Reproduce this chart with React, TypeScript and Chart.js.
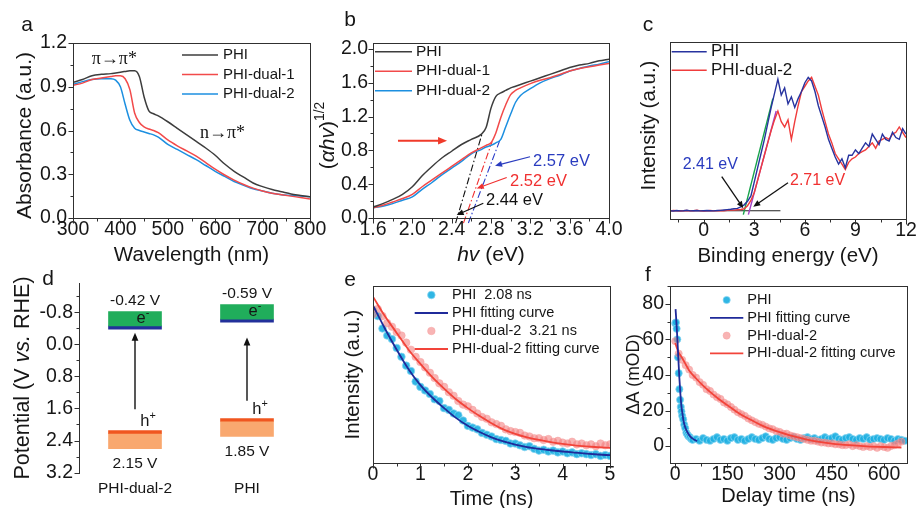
import React, { useEffect, useRef } from 'react';
import { Chart, registerables } from 'chart.js';

Chart.register(...registerables);

const SANS = '"Liberation Sans", Arial, Helvetica, sans-serif';
const SERIF = '"Liberation Serif", "DejaVu Serif", "Times New Roman", serif';
const INK = '#161616';
const AXIS = '#303030';
const TICK = 19.5;

const COL = {
  gray: '#3d3d3d',
  red: '#f24a4a',
  blue: '#1c8fe0',
  specBlue: '#27339f',
  specRed: '#f03c3c',
  cyanFill: 'rgba(30, 176, 226, 0.92)',
  cyanEdge: 'rgba(140, 214, 242, 0.9)',
  pinkFill: 'rgba(242, 118, 118, 0.55)',
  pinkEdge: 'rgba(246, 160, 160, 0.6)',
  fitNavy: '#1f2a9a',
  fitRed: '#f2443a',
  green: '#20ad5b',
  cbLine: '#22309a',
  vbLine: '#f0561f',
  orange: '#f9a86f',
  tanGreen: '#16a34a',
  tanPurple: '#a23ec8',
  labelBlue: '#2a3cbf',
};

// ---------------- Panel a : UV-vis absorbance ----------------
const aWavelength = [300, 320, 340, 360, 380, 390, 400, 410, 420, 430, 440, 450, 460, 470, 480, 500, 520, 540, 560, 580, 600, 620, 640, 660, 680, 700, 720, 740, 760, 780, 800];
const aPHI = [0.93, 0.95, 0.975, 0.985, 0.99, 0.995, 1.0, 1.005, 1.01, 1.01, 0.97, 0.83, 0.735, 0.715, 0.70, 0.66, 0.615, 0.57, 0.525, 0.48, 0.43, 0.37, 0.32, 0.28, 0.24, 0.215, 0.195, 0.18, 0.165, 0.155, 0.145];
const aDual1 = [0.91, 0.925, 0.95, 0.96, 0.97, 0.975, 0.975, 0.955, 0.88, 0.72, 0.655, 0.625, 0.61, 0.60, 0.585, 0.535, 0.495, 0.46, 0.425, 0.38, 0.335, 0.295, 0.26, 0.23, 0.205, 0.185, 0.17, 0.16, 0.15, 0.14, 0.13];
const aDual2 = [0.915, 0.935, 0.95, 0.955, 0.955, 0.945, 0.90, 0.78, 0.67, 0.615, 0.60, 0.59, 0.58, 0.57, 0.555, 0.505, 0.47, 0.435, 0.40, 0.36, 0.32, 0.285, 0.25, 0.225, 0.20, 0.185, 0.17, 0.16, 0.155, 0.15, 0.145];
const aXTicks = [300, 400, 500, 600, 700, 800];
const aYTicks = [0, 0.3, 0.6, 0.9, 1.2];

// ---------------- Panel b : Tauc plot ----------------
const bEnergy = [1.6, 1.7, 1.8, 1.9, 2.0, 2.1, 2.2, 2.3, 2.4, 2.5, 2.6, 2.7, 2.75, 2.8, 2.85, 2.9, 2.95, 3.0, 3.05, 3.1, 3.2, 3.3, 3.4, 3.5, 3.6, 3.7, 3.8, 3.9, 4.0];
const bPHI = [0.13, 0.17, 0.22, 0.28, 0.37, 0.50, 0.61, 0.71, 0.79, 0.87, 0.93, 0.99, 1.07, 1.30, 1.44, 1.48, 1.51, 1.54, 1.56, 1.58, 1.62, 1.66, 1.70, 1.74, 1.78, 1.81, 1.83, 1.86, 1.88];
const bDual1 = [0.12, 0.15, 0.19, 0.23, 0.28, 0.37, 0.45, 0.53, 0.61, 0.69, 0.77, 0.83, 0.86, 0.89, 1.01, 1.19, 1.34, 1.46, 1.51, 1.54, 1.59, 1.63, 1.66, 1.70, 1.74, 1.77, 1.79, 1.81, 1.83];
const bDual2 = [0.12, 0.14, 0.17, 0.21, 0.25, 0.34, 0.42, 0.51, 0.59, 0.67, 0.76, 0.81, 0.84, 0.86, 0.89, 0.93, 1.08, 1.23, 1.37, 1.45, 1.53, 1.60, 1.65, 1.69, 1.74, 1.77, 1.80, 1.82, 1.85];
const bTanPHIx = [2.44, 2.71];
const bTanPHIy = [-0.06, 1.0];
const bTanDual1x = [2.52, 2.81];
const bTanDual1y = [-0.06, 0.9];
const bTanDual2x = [2.57, 2.89];
const bTanDual2y = [-0.06, 0.92];
const bGapLabels = ['2.44 eV', '2.52 eV', '2.57 eV'];
const bXTicks = [1.6, 2.0, 2.4, 2.8, 3.2, 3.6, 4.0];
const bYTicks = [0, 0.4, 0.8, 1.2, 1.6, 2.0];

// ---------------- Panel c : valence band XPS ----------------
const cEnergy = [-2.0, -1.8, -1.6, -1.4, -1.2, -1.0, -0.8, -0.6, -0.4, -0.2, 0.0, 0.2, 0.4, 0.6, 0.8, 1.0, 1.2, 1.4, 1.6, 1.8, 2.0, 2.2, 2.4, 2.6, 2.8, 3.0, 3.2, 3.4, 3.6, 3.8, 4.0, 4.2, 4.4, 4.6, 4.8, 5.0, 5.2, 5.4, 5.6, 5.8, 6.0, 6.2, 6.4, 6.6, 6.8, 7.0, 7.2, 7.4, 7.6, 7.8, 8.0, 8.2, 8.4, 8.6, 8.8, 9.0, 9.2, 9.4, 9.6, 9.8, 10.0, 10.2, 10.4, 10.6, 10.8, 11.0, 11.2, 11.4, 11.6, 11.8, 12.0];
const cPHI = [4.7, 4.5, 4.8, 4.6, 4.7, 4.9, 4.6, 4.7, 4.8, 4.6, 4.7, 4.8, 4.7, 4.6, 4.8, 4.9, 5.1, 5.3,
  5.5, 5.8, 6.0, 6.8, 8.0, 10, 13, 21, 29, 37, 45, 54, 63, 71, 79, 70, 74, 65, 69, 63, 68, 72, 77, 80, 78, 72, 64, 58, 52, 45, 40, 35, 31, 34, 29, 36, 36, 39, 37, 40, 43, 41, 48, 45, 42, 48, 45, 44, 49, 46, 45, 51, 48];
const cDual2 = [4.6, 4.8, 4.7, 4.5, 4.7, 4.8, 4.6, 4.7, 4.9, 4.6, 4.5, 4.7, 4.8, 4.6, 4.7, 4.8, 4.7, 4.9, 5.0, 5.0, 5.2, 5.4,
  5.8, 7.5, 10.5, 15, 22, 29, 36, 43, 50, 56, 61, 55, 52, 56, 45, 55, 64, 72, 75, 78, 80, 75, 70, 62, 55, 48, 43, 37, 34, 31, 28, 32, 34, 35, 37, 38, 39, 41, 43, 40, 44, 45, 46, 45, 48, 49, 52, 49, 46];
const cTanPHIx = [2.35, 4.1];
const cTanPHIy = [2.5, 68];
const cTanDualx = [2.65, 4.3];
const cTanDualy = [2.5, 61];
const cBaseX = [-2, 4.55];
const cBaseY = [4.7, 4.7];
const cEdgeLabels = ['2.41 eV', '2.71 eV'];
const cXTicks = [0, 3, 6, 9, 12];

// ---------------- Panel d : band positions ----------------
const dSamples = ['PHI-dual-2', 'PHI'];
const dCB = [-0.42, -0.59];
const dVB = [2.15, 1.85];
const dArrowBottom = [1.62, 1.41];
const dArrowTop = [-0.29, -0.17];
const dYTicks = [-0.8, 0.0, 0.8, 1.6, 2.4, 3.2];

// ---------------- Panel e : TRPL ----------------
const eTime = [0, 0.1, 0.2, 0.3, 0.4, 0.5, 0.6, 0.7, 0.8, 0.9, 1.0, 1.1, 1.2, 1.3, 1.4, 1.5, 1.6, 1.7, 1.8, 1.9, 2.0, 2.1, 2.2, 2.3, 2.4, 2.5, 2.6, 2.7, 2.8, 2.9, 3.0, 3.1, 3.2, 3.3, 3.4, 3.5, 3.6, 3.7, 3.8, 3.9, 4.0, 4.1, 4.2, 4.3, 4.4, 4.5, 4.6, 4.7, 4.8, 4.9, 5.0];
const ePHIDots = [86, 83, 76, 72, 70, 65, 60, 55, 52, 46, 43, 41, 39, 36, 35, 31, 30, 28, 27, 24, 21, 20, 19, 17, 16, 15, 13.5, 13, 12.5, 11, 11, 10, 9, 9.5, 8, 7, 7.5, 6.5, 7, 6, 6.5, 5.5, 6, 5, 5.5, 5, 4.5, 5, 4, 4.5, 4];
const eDualDots = [84, 87, 83, 79, 77, 74, 72, 68, 64, 60, 57, 54, 51, 48, 45, 43, 40, 38, 35, 33, 32, 30, 28, 26, 25, 23, 22, 21, 19, 18, 17.5, 17, 15.5, 15, 14, 14, 13, 13.5, 12, 12.5, 11.5, 11, 12, 10.5, 11, 10, 10.5, 9.5, 11, 10, 10.5];
const eFitTime = [0, 0.25, 0.5, 0.75, 1, 1.25, 1.5, 1.75, 2, 2.25, 2.5, 2.75, 3, 3.25, 3.5, 3.75, 4, 4.25, 4.5, 4.75, 5];
const ePHIFit = [89, 76, 64, 53, 44, 37, 31, 25.5, 21, 17.5, 14.5, 12.2, 10.4, 9, 8, 7.2, 6.5, 5.9, 5.3, 4.8, 4.4];
const eDualFit = [94, 83, 73.5, 64, 56, 48.5, 42, 36, 31, 26.5, 22.5, 19, 16.5, 14.5, 13, 11.8, 10.8, 10, 9.4, 8.9, 8.5];
const eLifetimes = ['2.08 ns', '3.21 ns'];
const eXTicks = [0, 1, 2, 3, 4, 5];

// ---------------- Panel f : TAS kinetics ----------------
const fPHIDotTime = [0, 2, 4, 6, 8, 10, 12, 14, 16, 18, 20, 23, 26, 29, 32, 35, 38, 42, 46, 50,
  60, 70, 80, 90, 100, 110, 120, 130, 140, 150, 160, 170, 180, 190, 200, 210, 220, 230, 240, 250, 260, 270, 280, 290, 300, 310, 320, 330, 340, 350, 360, 370, 380, 390, 400, 410, 420, 430, 440, 450, 460, 470, 480, 490, 500, 510, 520, 530, 540, 550, 560, 570, 580, 590, 600, 610, 620, 630, 640, 650, 660];
const fPHIDots = [69, 69.5, 66, 60, 50, 41, 32, 26, 22, 19.5, 17, 15, 12, 10, 7.5, 6.5, 5.5, 5, 4, 3.5,
  4, 3, 4.5, 3.5, 3, 4, 5, 3.5, 4, 3, 4.5, 5, 3.5, 4, 3, 4, 5, 4, 3.5, 4.5, 5.5, 4, 3.5, 4.5, 5, 4, 3.5, 4.5, 5, 4, 3.5, 4.5, 5, 4, 4.5, 3.5, 4, 5, 4, 4.5, 5.5, 4, 3.5, 4.5, 5, 4, 3.5, 4.5, 4, 5, 3.5, 4, 4.5, 4, 3.5, 4.5, 4, 3, 4, 3.5, 3];
const fPHIFitTime = [1, 3, 6, 9, 12, 15, 18, 21, 24, 28, 32, 36, 40, 45, 50, 55, 60, 63];
const fPHIFit = [77, 71, 61, 49, 38, 29, 22, 18, 14, 11, 9, 7.5, 6.2, 5, 4.2, 3.6, 3.1, 2.8];
const fDualTime = [0, 10, 20, 30, 40, 50, 60, 70, 80, 90, 100, 110, 120, 130, 140, 150, 160, 170, 180, 190, 200, 210, 220, 230, 240, 250, 260, 270, 280, 290, 300, 310, 320, 330, 340, 350, 360, 370, 380, 390, 400, 410, 420, 430, 440, 450, 460, 470, 480, 490, 500, 510, 520, 530, 540, 550, 560, 570, 580, 590, 600, 610, 620, 630, 640, 650];
const fDualDots = [59, 52, 48.5, 45.5, 43, 40, 38.5, 36, 34.5, 32, 31, 29, 27.5, 26.5, 24.5, 23.5, 22, 20.5, 19, 18, 17, 15.5, 14.5, 13.5, 12.5, 12, 11, 10, 9.5, 8.5, 8, 7, 7, 6, 5.5, 5, 4.5, 4, 3.5, 3, 3, 2.5, 2, 2, 1.5, 1.5, 1, 1, 0.5, 0.5, 1, 0, 0.5, 0, -0.5, 0, -0.5, 0, -1, 0, -0.5, -1, 0, 0.5, 1.5, 2.5];
const fDualFitTime = [0, 5, 10, 15, 20, 30, 40, 60, 80, 100, 125, 150, 175, 200, 225, 250, 275, 300, 325, 350, 375, 400, 450, 500, 550, 600, 650];
const fDualFit = [58, 55, 52.5, 51, 49.5, 46, 42.5, 38, 34, 30.5, 26.5, 23, 19.5, 16.5, 14, 11.5, 9.5, 7.8, 6.3, 5, 3.8, 2.8, 1.4, 0.5, -0.1, -0.5, -0.8];
const fXTicks = [0, 150, 300, 450, 600];
const fYTicks = [0, 20, 40, 60, 80];

// ---------------- helpers ----------------
const pts = (xs: number[], ys: number[]) => xs.map((x, i) => ({ x, y: ys[i] }));

type Seg = { t: string; it?: boolean; sup?: boolean };

function drawSegs(ctx: CanvasRenderingContext2D, segs: Seg[], x: number, y: number, size: number, family: string, color: string, align: string, rotate: boolean) {
  ctx.save();
  ctx.translate(x, y);
  if (rotate) ctx.rotate(-Math.PI / 2);
  ctx.fillStyle = color;
  ctx.textBaseline = 'middle';
  ctx.textAlign = 'left';
  const items = segs.map((s) => {
    const sz = s.sup ? size * 0.66 : size;
    const font = `${s.it ? 'italic ' : ''}${sz}px ${family}`;
    ctx.font = font;
    return { s, font, w: ctx.measureText(s.t).width, dy: s.sup ? -size * 0.36 : 0 };
  });
  const total = items.reduce((a, b) => a + b.w, 0);
  let cx = align === 'left' ? 0 : align === 'right' ? -total : -total / 2;
  for (const it of items) {
    ctx.font = it.font;
    ctx.fillText(it.s.t, cx, it.dy);
    cx += it.w;
  }
  ctx.restore();
}

function drawArrow(ctx: CanvasRenderingContext2D, x1: number, y1: number, x2: number, y2: number, color: string, w: number, head: number) {
  const ang = Math.atan2(y2 - y1, x2 - x1);
  const c = Math.cos(ang), s = Math.sin(ang);
  ctx.save();
  ctx.strokeStyle = color;
  ctx.fillStyle = color;
  ctx.lineWidth = w;
  ctx.beginPath();
  ctx.moveTo(x1, y1);
  ctx.lineTo(x2 - c * head * 0.8, y2 - s * head * 0.8);
  ctx.stroke();
  const hw = head * 0.42;
  ctx.beginPath();
  ctx.moveTo(x2, y2);
  ctx.lineTo(x2 - head * c + hw * s, y2 - head * s - hw * c);
  ctx.lineTo(x2 - head * c - hw * s, y2 - head * s + hw * c);
  ctx.closePath();
  ctx.fill();
  ctx.restore();
}

function eachStep(min: number, max: number, step: number, fn: (v: number) => void) {
  const k0 = Math.ceil(min / step - 1e-9);
  for (let k = k0; k * step <= max + 1e-9; k++) fn(k * step);
}

function panelPlugin(cfg: any) {
  return {
    id: 'panelDecor',
    afterDatasetsDraw(chart: any) {
      const { ctx, chartArea: ca, scales } = chart;
      const fr = cfg.frame || {};
      const xs = scales.x, ys = scales.y;
      const L = Math.round(ca.left), R = Math.round(ca.right), T = Math.round(ca.top), B = Math.round(ca.bottom);
      ctx.save();
      ctx.strokeStyle = AXIS;
      ctx.lineWidth = 1;
      const line = (x1: number, y1: number, x2: number, y2: number) => {
        ctx.beginPath();
        ctx.moveTo(x1, y1);
        ctx.lineTo(x2, y2);
        ctx.stroke();
      };
      if (fr.box) ctx.strokeRect(L + 0.5, T + 0.5, R - L, B - T);
      if (fr.left) line(L + 0.5, T, L + 0.5, B + 1);
      const maj = 4.5, mnr = 2.5;
      if (fr.xTicks) {
        if (fr.xMinor) eachStep(xs.min, xs.max, fr.xMinor, (v) => {
          const p = Math.round(xs.getPixelForValue(v)) + 0.5;
          line(p, B + 1, p, B + 1 + mnr);
        });
        for (const t of xs.ticks) {
          const p = Math.round(xs.getPixelForValue(t.value)) + 0.5;
          line(p, B + 1, p, B + 1 + maj);
        }
      }
      if (fr.yTicks) {
        if (fr.yMinor) eachStep(ys.min, ys.max, fr.yMinor, (v) => {
          const p = Math.round(ys.getPixelForValue(v)) + 0.5;
          line(L - mnr, p, L, p);
        });
        for (const t of ys.ticks) {
          const p = Math.round(ys.getPixelForValue(t.value)) + 0.5;
          line(L - maj, p, L, p);
        }
      }
      ctx.restore();
    },
    afterDraw(chart: any) {
      const { ctx, chartArea: ca, scales } = chart;
      const xs = scales.x, ys = scales.y;
      // annotations
      for (const n of cfg.notes || []) {
        if (n.type === 'arrow') {
          const x1 = xs.getPixelForValue(n.x1) + (n.dx || 0);
          const x2 = xs.getPixelForValue(n.x2) + (n.dx || 0);
          const y1 = ys.getPixelForValue(n.y1);
          const y2 = ys.getPixelForValue(n.y2);
          drawArrow(ctx, x1, y1, x2, y2, n.color || INK, n.width || 1.2, n.head || 7);
        } else {
          const x = xs.getPixelForValue(n.x) + (n.dx || 0);
          const y = ys.getPixelForValue(n.y) + (n.dy || 0);
          drawSegs(ctx, n.segs, x, y, n.size, n.family || SANS, n.color || INK, n.align || 'center', false);
        }
      }
      // legend
      const lg = cfg.legend;
      if (lg) {
        ctx.save();
        lg.items.forEach((it: any, i: number) => {
          const y = ca.top + lg.y + i * lg.rowH;
          const x0 = ca.left + lg.x;
          const ds = chart.data.datasets[it.ds];
          if (it.kind === 'line') {
            ctx.strokeStyle = ds.borderColor;
            ctx.lineWidth = ds.borderWidth;
            ctx.beginPath();
            ctx.moveTo(x0, y);
            ctx.lineTo(x0 + lg.len, y);
            ctx.stroke();
          } else {
            ctx.fillStyle = ds.pointBackgroundColor;
            ctx.strokeStyle = ds.pointBorderColor;
            ctx.lineWidth = 0.8;
            ctx.beginPath();
            ctx.arc(x0 + lg.len / 2, y, ds.pointRadius, 0, Math.PI * 2);
            ctx.fill();
            ctx.stroke();
          }
          drawSegs(ctx, [{ t: it.text }], x0 + lg.len + lg.gap, y, lg.size, SANS, INK, 'left', false);
        });
        ctx.restore();
      }
      // titles
      if (cfg.xTitle) drawSegs(ctx, cfg.xTitle.segs, (ca.left + ca.right) / 2 + (cfg.xTitle.dx || 0), ca.bottom + cfg.xTitle.dy, cfg.xTitle.size, SANS, INK, 'center', false);
      if (cfg.yTitle) drawSegs(ctx, cfg.yTitle.segs, ca.left - cfg.yTitle.dx, (ca.top + ca.bottom) / 2 + (cfg.yTitle.dy || 0), cfg.yTitle.size, SANS, INK, 'center', true);
      if (cfg.letter) drawSegs(ctx, [{ t: cfg.letter.t }], ca.left + cfg.letter.dx, ca.top + cfg.letter.dy, 21, SANS, INK, 'center', false);
    },
  };
}

type Box = { l: number; t: number; w: number; h: number };
type Area = { l: number; t: number; r: number; b: number };

function geom(box: Box, area: Area) {
  return {
    padding: { left: 0, top: area.t - box.t, right: box.l + box.w - area.r, bottom: 0 },
    yWidth: area.l - box.l,
    xHeight: box.t + box.h - area.b,
  };
}

function linX(g: any, min: number, max: number, ticks: number[], fmt: (v: number) => string, pad: number) {
  return {
    type: 'linear',
    min,
    max,
    grid: { display: false, drawTicks: false },
    border: { display: false },
    ticks: { font: { family: SANS, size: TICK }, color: INK, padding: pad, autoSkip: false, maxRotation: 0, callback: (v: any) => fmt(Number(v)) },
    afterBuildTicks: (s: any) => { s.ticks = ticks.map((v) => ({ value: v })); },
    afterFit: (s: any) => { s.height = g.xHeight; s.paddingLeft = 0; s.paddingRight = 0; },
  };
}

function linY(g: any, min: number, max: number, ticks: number[] | null, fmt: (v: number) => string, pad: number, extra: any = {}) {
  return {
    type: 'linear',
    min,
    max,
    grid: { display: false, drawTicks: false },
    border: { display: false },
    ticks: { display: !!ticks, font: { family: SANS, size: TICK }, color: INK, padding: pad, autoSkip: false, callback: (v: any) => fmt(Number(v)) },
    afterBuildTicks: (s: any) => { if (ticks) s.ticks = ticks.map((v) => ({ value: v })); },
    afterFit: (s: any) => { s.width = g.yWidth; s.paddingTop = 0; s.paddingBottom = 0; },
    ...extra,
  };
}

function baseOptions(g: any, scales: any) {
  return {
    animation: false,
    responsive: false,
    devicePixelRatio: 1,
    events: [],
    layout: { padding: g.padding },
    plugins: { legend: { display: false }, tooltip: { enabled: false } },
    scales,
  };
}

const lineDs = (label: string, data: any[], color: string, width: number, extra: any = {}) => ({
  label,
  data,
  borderColor: color,
  backgroundColor: color,
  borderWidth: width,
  pointRadius: 0,
  fill: false,
  tension: 0,
  ...extra,
});

const dotDs = (label: string, data: any[], fill: string, edge: string, r: number, extra: any = {}) => ({
  label,
  data,
  showLine: false,
  pointRadius: r,
  pointBackgroundColor: fill,
  pointBorderColor: edge,
  pointBorderWidth: 0.8,
  borderColor: fill,
  backgroundColor: fill,
  ...extra,
});

const f1 = (v: number) => v.toFixed(1);
const f0 = (v: number) => String(Math.round(v));

// ---------------- panel configs ----------------
const boxA: Box = { l: 0, t: 0, w: 330, h: 272 };
const areaA: Area = { l: 73, t: 43, r: 310, b: 218 };
function configA() {
  const g = geom(boxA, areaA);
  return {
    type: 'line',
    data: {
      datasets: [
        lineDs('PHI', pts(aWavelength, aPHI), COL.gray, 1.5, { cubicInterpolationMode: 'monotone' }),
        lineDs('PHI-dual-1', pts(aWavelength, aDual1), COL.red, 1.5, { cubicInterpolationMode: 'monotone' }),
        lineDs('PHI-dual-2', pts(aWavelength, aDual2), COL.blue, 1.5, { cubicInterpolationMode: 'monotone' }),
      ],
    },
    options: baseOptions(g, {
      x: linX(g, 300, 800, aXTicks, f0, 0),
      y: linY(g, 0, 1.2, aYTicks, f1, 6),
    }),
    plugins: [panelPlugin({
      frame: { box: true, xTicks: true, yTicks: true, xMinor: 50, yMinor: 0.15 },
      notes: [
        { x: 339.5, y: 1.09, segs: [{ t: 'π→π*' }], size: 18, family: SERIF, align: 'left' },
        { x: 568, y: 0.583, segs: [{ t: 'n→π*' }], size: 18, family: SERIF, align: 'left' },
      ],
      legend: {
        x: 109, y: 12, rowH: 19.5, len: 36, gap: 5, size: 15,
        items: [
          { ds: 0, kind: 'line', text: 'PHI' },
          { ds: 1, kind: 'line', text: 'PHI-dual-1' },
          { ds: 2, kind: 'line', text: 'PHI-dual-2' },
        ],
      },
      xTitle: { segs: [{ t: 'Wavelength (nm)' }], size: 20.5, dy: 37 },
      yTitle: { segs: [{ t: 'Absorbance (a.u.)' }], size: 21, dx: 48, dy: 5 },
      letter: { t: 'a', dx: -46, dy: -18 },
    })],
  };
}

const boxB: Box = { l: 300, t: 0, w: 330, h: 272 };
const areaB: Area = { l: 373, t: 43, r: 609, b: 218 };
function configB() {
  const g = geom(boxB, areaB);
  const dash = [7, 2.5, 1.5, 2.5];
  return {
    type: 'line',
    data: {
      datasets: [
        lineDs('PHI', pts(bEnergy, bPHI), COL.gray, 1.5, { cubicInterpolationMode: 'monotone' }),
        lineDs('PHI-dual-1', pts(bEnergy, bDual1), COL.red, 1.5, { cubicInterpolationMode: 'monotone' }),
        lineDs('PHI-dual-2', pts(bEnergy, bDual2), COL.blue, 1.5, { cubicInterpolationMode: 'monotone' }),
        lineDs('tan PHI', pts(bTanPHIx, bTanPHIy), '#111111', 1.1, { borderDash: dash, clip: 8 }),
        lineDs('tan dual-1', pts(bTanDual1x, bTanDual1y), '#f03030', 1.1, { borderDash: dash, clip: 8 }),
        lineDs('tan dual-2', pts(bTanDual2x, bTanDual2y), '#2a3cc8', 1.1, { borderDash: dash, clip: 8 }),
      ],
    },
    options: baseOptions(g, {
      x: linX(g, 1.6, 4.0, bXTicks, f1, 0),
      y: linY(g, 0, 2.071, bYTicks, f1, 5),
    }),
    plugins: [panelPlugin({
      frame: { box: true, xTicks: true, yTicks: true, xMinor: 0.2, yMinor: 0.2 },
      notes: [
        { type: 'arrow', x1: 1.854, y1: 0.915, x2: 2.353, y2: 0.915, color: '#f03a2a', width: 2, head: 9 },
        { type: 'arrow', x1: 3.197, y1: 0.725, x2: 2.841, y2: 0.619, color: COL.labelBlue, width: 1.2, head: 7 },
        { x: 3.228, y: 0.675, segs: [{ t: bGapLabels[2] }], size: 16.5, color: COL.labelBlue, align: 'left' },
        { type: 'arrow', x1: 2.96, y1: 0.48, x2: 2.655, y2: 0.35, color: '#f03030', width: 1.2, head: 7 },
        { x: 2.994, y: 0.43, segs: [{ t: bGapLabels[1] }], size: 16.5, color: '#f03030', align: 'left' },
        { type: 'arrow', x1: 2.722, y1: 0.174, x2: 2.451, y2: 0.035, color: '#111111', width: 1.2, head: 7 },
        { x: 2.75, y: 0.213, segs: [{ t: bGapLabels[0] }], size: 16.5, color: '#111111', align: 'left' },
      ],
      legend: {
        x: 2, y: 8.7, rowH: 19.5, len: 37, gap: 4, size: 15.5,
        items: [
          { ds: 0, kind: 'line', text: 'PHI' },
          { ds: 1, kind: 'line', text: 'PHI-dual-1' },
          { ds: 2, kind: 'line', text: 'PHI-dual-2' },
        ],
      },
      xTitle: { segs: [{ t: 'hv', it: true }, { t: ' (eV)' }], size: 21, dy: 37 },
      yTitle: { segs: [{ t: '(' }, { t: 'αhv', it: true }, { t: ')' }, { t: '1/2', sup: true }], size: 21, dx: 45, dy: 5 },
      letter: { t: 'b', dx: -23, dy: -23 },
    })],
  };
}

const boxC: Box = { l: 610, t: 0, w: 307, h: 272 };
const areaC: Area = { l: 670, t: 42, r: 906, b: 219 };
function configC() {
  const g = geom(boxC, areaC);
  return {
    type: 'line',
    data: {
      datasets: [
        lineDs('PHI', pts(cEnergy, cPHI), COL.specBlue, 1.4),
        lineDs('PHI-dual-2', pts(cEnergy, cDual2), COL.specRed, 1.4),
        lineDs('tangent PHI', pts(cTanPHIx, cTanPHIy), COL.tanGreen, 1.4),
        lineDs('tangent dual', pts(cTanDualx, cTanDualy), COL.tanPurple, 1.4),
        lineDs('baseline', pts(cBaseX, cBaseY), '#222222', 1.1),
      ],
    },
    options: baseOptions(g, {
      x: linX(g, -2, 12, cXTicks, f0, 0),
      y: linY(g, 0, 100, null, f0, 0),
    }),
    plugins: [panelPlugin({
      frame: { box: true, xTicks: true, yTicks: false, xMinor: 1.5 },
      notes: [
        { x: -1.25, y: 30.9, segs: [{ t: cEdgeLabels[0] }], size: 16, color: COL.labelBlue, align: 'left' },
        { type: 'arrow', x1: 1.07, y1: 23.9, x2: 2.35, y2: 6.05, color: '#111111', width: 1.3, head: 7 },
        { x: 5.12, y: 21.5, segs: [{ t: cEdgeLabels[1] }], size: 16, color: '#f03030', align: 'left' },
        { type: 'arrow', x1: 5.0, y1: 20.5, x2: 2.94, y2: 6.95, color: '#111111', width: 1.3, head: 7 },
      ],
      legend: {
        x: 1.7, y: 9.7, rowH: 18.5, len: 35, gap: 4.3, size: 17,
        items: [
          { ds: 0, kind: 'line', text: 'PHI' },
          { ds: 1, kind: 'line', text: 'PHI-dual-2' },
        ],
      },
      xTitle: { segs: [{ t: 'Binding energy (eV)' }], size: 20.5, dy: 37 },
      yTitle: { segs: [{ t: 'Intensity (a.u.)' }], size: 20.5, dx: 21, dy: -5 },
      letter: { t: 'c', dx: -22, dy: -17 },
    })],
  };
}

const boxD: Box = { l: 0, t: 258, w: 310, h: 250 };
const areaD: Area = { l: 79, t: 283, r: 303, b: 473 };
function configD() {
  const g = geom(boxD, areaD);
  const bar = (label: string, data: number[][], color: string) => ({
    label, data, backgroundColor: color, borderWidth: 0, grouped: false, barThickness: 53,
  });
  const notes: any[] = [];
  dSamples.forEach((_, i) => {
    notes.push({ x: i, y: dCB[i] - 0.4, dy: -11, segs: [{ t: `${dCB[i].toFixed(2)} V` }], size: 15.5 });
    notes.push({ x: i, y: dCB[i] - 0.22, dx: 8, segs: [{ t: 'e' }, { t: '-', sup: true }], size: 16.5 });
    notes.push({ x: i, y: dVB[i], dx: 13, dy: -9, segs: [{ t: 'h' }, { t: '+', sup: true }], size: 16.5 });
    notes.push({ x: i, y: dVB[i] + 0.45, dy: 15.5, segs: [{ t: `${dVB[i].toFixed(2)} V` }], size: 15.5 });
    notes.push({ type: 'arrow', x1: i, y1: dArrowBottom[i], x2: i, y2: dArrowTop[i], color: '#111111', width: 1.4, head: 8 });
  });
  return {
    type: 'bar',
    data: {
      labels: dSamples,
      datasets: [
        bar('CB region', dCB.map((cb) => [cb - 0.4, cb - 0.04]), COL.green),
        bar('CB edge', dCB.map((cb) => [cb - 0.04, cb + 0.04]), COL.cbLine),
        bar('VB edge', dVB.map((vb) => [vb, vb + 0.07]), COL.vbLine),
        bar('VB region', dVB.map((vb) => [vb + 0.07, vb + 0.45]), COL.orange),
      ],
    },
    options: baseOptions(g, {
      x: {
        type: 'category',
        offset: true,
        grid: { display: false, drawTicks: false },
        border: { display: false },
        ticks: { font: { family: SANS, size: 15.5 }, color: INK, padding: 6, maxRotation: 0, autoSkip: false },
        afterFit: (s: any) => { s.height = g.xHeight; s.paddingLeft = 0; s.paddingRight = 0; },
      },
      y: linY(g, -1.53, 3.21, dYTicks, f1, 6, { reverse: true }),
    }),
    plugins: [panelPlugin({
      frame: { left: true, yTicks: true, yMinor: 0.4 },
      notes,
      yTitle: { segs: [{ t: 'Potential (V ' }, { t: 'vs.', it: true }, { t: ' RHE)' }], size: 21.5, dx: 56 },
      letter: { t: 'd', dx: -31, dy: -4 },
    })],
  };
}

const boxE: Box = { l: 320, t: 262, w: 300, h: 246 };
const areaE: Area = { l: 373, t: 286, r: 610, b: 463 };
function configE() {
  const g = geom(boxE, areaE);
  return {
    type: 'line',
    data: {
      datasets: [
        dotDs(`PHI  ${eLifetimes[0]}`, pts(eTime, ePHIDots), COL.cyanFill, COL.cyanEdge, 3.8, { order: 2 }),
        lineDs('PHI fitting curve', pts(eFitTime, ePHIFit), COL.fitNavy, 1.8, { cubicInterpolationMode: 'monotone', order: 0 }),
        dotDs(`PHI-dual-2  ${eLifetimes[1]}`, pts(eTime, eDualDots), COL.pinkFill, COL.pinkEdge, 3.8, { order: 1 }),
        lineDs('PHI-dual-2 fitting curve', pts(eFitTime, eDualFit), COL.fitRed, 1.8, { cubicInterpolationMode: 'monotone', order: 0 }),
      ],
    },
    options: baseOptions(g, {
      x: linX(g, 0, 5, eXTicks, f0, 0),
      y: linY(g, 0, 100, null, f0, 0),
    }),
    plugins: [panelPlugin({
      frame: { box: true, xTicks: true, yTicks: false, xMinor: 0.5 },
      legend: {
        x: 41.7, y: 9, rowH: 18, len: 33.3, gap: 4, size: 14.5,
        items: [
          { ds: 0, kind: 'dot', text: `PHI  ${eLifetimes[0]}` },
          { ds: 1, kind: 'line', text: 'PHI fitting curve' },
          { ds: 2, kind: 'dot', text: `PHI-dual-2  ${eLifetimes[1]}` },
          { ds: 3, kind: 'line', text: 'PHI-dual-2 fitting curve' },
        ],
      },
      xTitle: { segs: [{ t: 'Time (ns)' }], size: 20, dy: 36 },
      yTitle: { segs: [{ t: 'Intensity (a.u.)' }], size: 20.5, dx: 20 },
      letter: { t: 'e', dx: -23, dy: -6 },
    })],
  };
}

const boxF: Box = { l: 620, t: 262, w: 297, h: 246 };
const areaF: Area = { l: 670, t: 286, r: 907, b: 463 };
function configF() {
  const g = geom(boxF, areaF);
  return {
    type: 'line',
    data: {
      datasets: [
        dotDs('PHI', pts(fPHIDotTime, fPHIDots), COL.cyanFill, COL.cyanEdge, 3.6, { order: 2 }),
        lineDs('PHI fitting curve', pts(fPHIFitTime, fPHIFit), COL.fitNavy, 1.8, { cubicInterpolationMode: 'monotone', order: 0 }),
        dotDs('PHI-dual-2', pts(fDualTime, fDualDots), COL.pinkFill, COL.pinkEdge, 3.6, { order: 1 }),
        lineDs('PHI-dual-2 fitting curve', pts(fDualFitTime, fDualFit), COL.fitRed, 1.8, { cubicInterpolationMode: 'monotone', order: 0 }),
      ],
    },
    options: baseOptions(g, {
      x: linX(g, -15, 666, fXTicks, f0, 0),
      y: linY(g, -9.5, 90, fYTicks, f0, 6),
    }),
    plugins: [panelPlugin({
      frame: { box: true, xTicks: true, yTicks: true, xMinor: 75, yMinor: 10 },
      legend: {
        x: 40, y: 14, rowH: 17.8, len: 33.3, gap: 4, size: 14.6,
        items: [
          { ds: 0, kind: 'dot', text: 'PHI' },
          { ds: 1, kind: 'line', text: 'PHI fitting curve' },
          { ds: 2, kind: 'dot', text: 'PHI-dual-2' },
          { ds: 3, kind: 'line', text: 'PHI-dual-2 fitting curve' },
        ],
      },
      xTitle: { segs: [{ t: 'Delay time (ns)' }], size: 20, dy: 33 },
      yTitle: { segs: [{ t: 'ΔA (mOD)' }], size: 17.5, dx: 36 },
      letter: { t: 'f', dx: -22, dy: -11 },
    })],
  };
}

const PANELS = [
  { box: boxA, make: configA },
  { box: boxB, make: configB },
  { box: boxC, make: configC },
  { box: boxD, make: configD },
  { box: boxE, make: configE },
  { box: boxF, make: configF },
];

export default function App() {
  const refs = useRef<(HTMLCanvasElement | null)[]>([]);
  useEffect(() => {
    const charts = PANELS.map((p, i) => new Chart(refs.current[i] as HTMLCanvasElement, p.make() as any));
    return () => charts.forEach((c) => c.destroy());
  }, []);
  return (
    <div style={{ position: 'fixed', left: 0, top: 0, width: 917, height: 508, background: '#ffffff', overflow: 'hidden' }}>
      {PANELS.map((p, i) => (
        <canvas
          key={i}
          ref={(el) => { refs.current[i] = el; }}
          width={p.box.w}
          height={p.box.h}
          style={{ position: 'absolute', left: p.box.l, top: p.box.t, width: p.box.w, height: p.box.h }}
        />
      ))}
    </div>
  );
}
